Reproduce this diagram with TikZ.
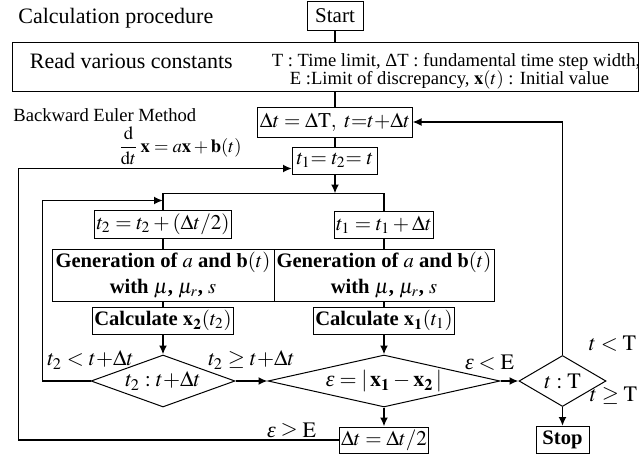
\documentclass[tikz,border=0pt]{standalone}
\usepackage{amsmath}
\usepackage{mathptmx}
\usepackage{fontspec}
\setmainfont{Liberation Serif}
\usepackage{tikz}
\usetikzlibrary{shapes.geometric,arrows.meta,positioning}

\newcommand{\eps}{\text{\itshape ε}}

\begin{document}
\begin{tikzpicture}[
  x=0.5pt, y=-0.5pt,
  box/.style={rectangle, draw, line width=0.5pt, inner sep=1pt, align=center, font=\fontsize{10.5}{12.5}\selectfont},
  boldbox/.style={box, font=\fontsize{10.3}{13}\selectfont\bfseries},
  decision/.style={diamond, draw, line width=0.5pt, inner sep=0pt},
  note/.style={inner sep=0pt, font=\fontsize{9.3}{11}\selectfont},
  cond/.style={inner sep=0pt, font=\fontsize{11}{12.5}\selectfont},
  link/.style={line width=0.9pt},
  arr/.style={link, -{Latex[length=4.5pt,width=4pt]}}
]
\useasboundingbox (0,0) rectangle (639,455);

% Header and constants
\node[cond, anchor=west] (title) at (18,18) {Calculation procedure};
\node[box, minimum width=28pt, minimum height=14pt] (start) at (335,16) {Start};
\node[box, minimum width=313pt, minimum height=24.5pt] (read) at (325,66.5) {};
\node[cond, anchor=west] (readtxt) at ([xshift=9pt, yshift=2.75pt]read.west) {Read various constants};
\node[note, anchor=west] (consta) at ([xshift=130pt, yshift=2.25pt]read.west) {T : Time limit, ΔT : fundamental time step width,};
\node[note, anchor=west] (constb) at ([xshift=139pt, yshift=-6.75pt]read.west) {E :Limit of discrepancy, $\mathbf{x}(t)$ : Initial value};

% Time step
\node[box, minimum width=74.5pt, minimum height=15pt] (dtbox) at (335,122) {$\Delta t = \Delta\mathrm{T},\ t{=}t{+}\Delta t$};
\node[box, minimum width=42.5pt, minimum height=13.5pt, below=4.5pt of dtbox] (t12) {$t_1{=}\;t_2{=}\;t$};
\coordinate[below=9.5pt of t12] (split);

% Backward Euler note
\node[note, anchor=west] (bem) at (13,115) {Backward Euler Method};
\node[note] (ode) at (180,146) {$\dfrac{\mathrm{d}}{\mathrm{d}t}\,\mathbf{x}=a\mathbf{x}+\mathbf{b}(t)$};

% Half step branch (left)
\node[boldbox, minimum width=111pt, minimum height=26pt] (gen2) at (163,275) {Generation of $a$ and $\mathbf{b}(t)$\\with $\mu$, $\mu_r$, $s$};
\node[box, minimum width=68.5pt, minimum height=14pt, above=5pt of gen2] (t2box) {$t_2=t_2+(\Delta t/2)$};
\coordinate[above=4.5pt of t2box.north] (loopin);
\node[boldbox, minimum width=70.5pt, minimum height=13.5pt, below=2.5pt of gen2] (calc2) {Calculate $\mathbf{x}_{\mathbf{2}}(t_2)$};
\node[decision, minimum width=72pt, minimum height=26pt, below=10pt of calc2,
  label={[cond]center:{$t_2:t{+}\Delta t$}}] (dia2) {};

% Full step branch (right)
\node[boldbox, minimum width=110pt, minimum height=26pt] (gen1) at (384,275) {Generation of $a$ and $\mathbf{b}(t)$\\with $\mu$, $\mu_r$, $s$};
\node[box, minimum width=48.5pt, minimum height=13.5pt, above=5pt of gen1] (t1box) {$t_1=t_1+\Delta t$};
\node[boldbox, minimum width=69.5pt, minimum height=13.5pt, below=2.5pt of gen1] (calc1) {Calculate $\mathbf{x}_{\mathbf{1}}(t_1)$};
\node[decision, minimum width=116pt, minimum height=26pt, below=10pt of calc1,
  label={[cond]center:{$\eps=|\,\mathbf{x}_{\mathbf{1}}-\mathbf{x}_{\mathbf{2}}\,|$}}] (diaE) {};
\node[box, minimum width=38pt, minimum height=13pt, below=9.5pt of diaE] (half) {$\Delta t=\Delta t/2$};

% End test
\node[decision, minimum width=43.5pt, minimum height=25.5pt, right=9pt of diaE,
  label={[cond]center:{$t:\mathrm{T}$}}] (diaT) {};
\node[boldbox, minimum width=26.5pt, minimum height=13.5pt, below=9.5pt of diaT] (stop) {Stop};

% Condition labels
\node[cond] (lt2) at ([yshift=10.5pt]dia2.west) {$t_2<t{+}\Delta t$};
\node[cond] (ge2) at ([xshift=8pt, yshift=10.5pt]dia2.east) {$t_2\geq t{+}\Delta t$};
\node[cond] (ltE) at ([xshift=-5.5pt, yshift=9pt]diaE.east) {$\eps<\mathrm{E}$};
\node[cond] (geE) at ([xshift=-23.5pt, yshift=4pt]half.west) {$\eps\geq\mathrm{E}$};
\node[cond] (ltT) at ([xshift=25pt, yshift=5.5pt]diaT.north) {$t<\mathrm{T}$};
\node[cond] (geT) at ([xshift=25.5pt, yshift=5.5pt]diaT.south) {$t\geq\mathrm{T}$};

% Connectors
\draw[link] (start.south) -- (start.south |- read.north);
\draw[link] (dtbox.north |- read.south) -- (dtbox.north);
\draw[link] (dtbox) -- (t12);
\draw[arr] (t12) -- (split);
\draw[link] (t2box.north) |- (split) -| (t1box.north);
\draw[link] (t2box) -- (gen2);
\draw[link] (t1box) -- (gen1);
\draw[link] (gen2) -- (calc2);
\draw[link] (gen1) -- (calc1);
\draw[arr] (calc2) -- (dia2);
\draw[arr] (calc1) -- (diaE);
\draw[arr] (dia2.east) -- (diaE.west);
\draw[arr] (diaE.east) -- (diaT.west);
\draw[arr] (diaE) -- (half);
\draw[arr] (diaT) -- (stop);

% Loops back
\draw[arr] (dia2.west) -- ++(-24pt,0) |- (loopin);
\draw[arr] (half.west) -- ++(-160pt,0) |- ([yshift=-4pt]t12.west);
\draw[arr] (diaT.north) |- (dtbox.east);
\end{tikzpicture}
\end{document}
